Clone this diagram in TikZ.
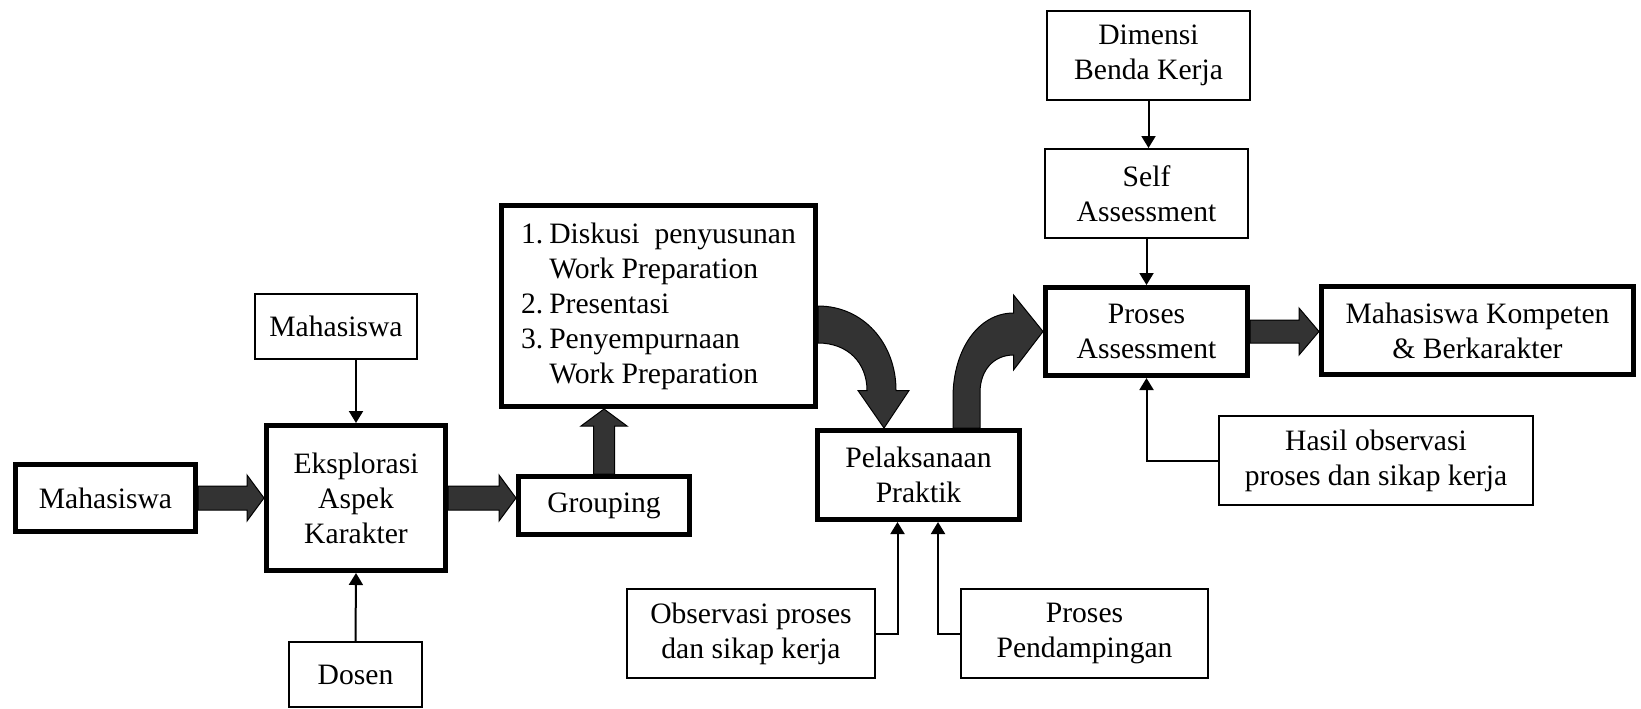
\documentclass[tikz,border=0pt]{standalone}
\usepackage{fontspec}
\setmainfont{Liberation Serif}
\usepackage{tikz}
\usetikzlibrary{arrows.meta,calc,backgrounds}
\definecolor{blockgray}{HTML}{333333}
\tikzset{every node/.append style={font=\fontsize{14.8pt}{17.5pt}\selectfont}}
\tikzset{
  thickbox/.style={draw,line width=2.5pt,inner sep=0pt,align=center},
  thinbox/.style={draw,line width=1pt,inner sep=0pt,align=center},
  link/.style={line width=1pt,-{Triangle[length=6pt,width=7pt]}},
  blockarrow/.style={fill=blockgray,draw=black,line width=0.5pt,line join=miter}
}

\begin{document}
\begin{tikzpicture}[x=0.5pt,y=-0.5pt]
  \useasboundingbox (0,0) rectangle (1641,708);
  % left part
  \node[thickbox,minimum width=90pt,minimum height=33.5pt] (mhsin) at (105.5,498) {Mahasiswa};
  \node[thinbox,minimum width=81pt,minimum height=32.5pt] (mhsatas) at (336,326.5) {Mahasiswa};
  \node[thickbox,minimum width=89.5pt,minimum height=72.5pt] (eksplorasi) at (356,498) {Eksplorasi\\Aspek\\Karakter};
  \node[thinbox,minimum width=66.5pt,minimum height=32.5pt] (dosen) at (355.5,674.5) {Dosen};
  \node[thickbox,minimum width=85.5pt,minimum height=29pt] (grouping) at (604,505.5) {Grouping};
  \node[thickbox,minimum width=157pt,minimum height=100.5pt] (workprep) at (658.5,306)
    {\begin{tabular}{@{}l@{\hspace{3pt}}l@{}}
      1. & Diskusi~~penyusunan\\
         & Work Preparation\\
      2. & Presentasi\\
      3. & Penyempurnaan\\
         & Work Preparation
    \end{tabular}};
  % middle part
  \node[thickbox,minimum width=101pt,minimum height=44.5pt] (pelaksanaan) at (918.5,475) {Pelaksanaan\\Praktik};
  \node[thinbox,minimum width=124pt,minimum height=44.5pt] (observasi) at (751,633.5) {Observasi proses\\dan sikap kerja};
  \node[thinbox,minimum width=123.5pt,minimum height=44.5pt] (pendamping) at (1084.5,633.5) {Proses\\Pendampingan};
  % right part
  \node[thinbox,minimum width=101.5pt,minimum height=44.5pt] (dimensi) at (1148.5,55.5) {Dimensi\\Benda Kerja};
  \node[thinbox,minimum width=101.5pt,minimum height=44.5pt] (selfas) at (1146.5,193.5) {Self\\Assessment};
  \node[thickbox,minimum width=101pt,minimum height=44pt] (prosesas) at (1146.5,331.5) {Proses\\Assessment};
  \node[thickbox,minimum width=156pt,minimum height=44pt] (kompeten) at (1477.5,330.5) {Mahasiswa Kompeten\\\& Berkarakter};
  \node[thinbox,minimum width=157pt,minimum height=44.5pt] (hasil) at (1376,460.5) {Hasil observasi\\proses dan sikap kerja};

  % thin connectors
  \draw[link] (mhsatas.south -| eksplorasi.north) -- (eksplorasi.north);
  \draw[link] (dosen.north) -- (eksplorasi.south);
  \draw[link] (dimensi.south) -- (dimensi.south |- selfas.north);
  \draw[link] (selfas.south) -- (prosesas.north);
  \draw[link] (hasil.west) -| (prosesas.south);
  \draw[link] (observasi.east) -| ($(pelaksanaan.south)+(-21,0)$);
  \draw[link] (pendamping.west) -| ($(pelaksanaan.south)+(19.5,0)$);

  % block arrows
  \coordinate (grpin) at (eksplorasi.east -| grouping.west);
  \coordinate (kmpin) at (prosesas.east -| kompeten.west);
  \coordinate (wpin) at (grouping.north |- workprep.south);
  \coordinate (P) at (pelaksanaan.north);
  \coordinate (A) at (prosesas.west);
  \begin{scope}[on background layer]
    \foreach \src/\dst/\hd/\bw/\hw in {mhsin.east/eksplorasi.west/17/12/23,
        eksplorasi.east/grpin/17/12/23, prosesas.east/kmpin/20/11.5/23.5}
      \filldraw[blockarrow] ($(\src)+(0,-\bw)$) -- ($(\dst)+(-\hd,-\bw)$) -- ($(\dst)+(-\hd,-\hw)$)
        -- (\dst) -- ($(\dst)+(-\hd,\hw)$) -- ($(\dst)+(-\hd,\bw)$) -- ($(\src)+(0,\bw)$) -- cycle;
    \filldraw[blockarrow] ($(grouping.north)+(-10.5,0)$) -- ($(wpin)+(-10.5,17)$) -- ($(wpin)+(-23,17)$)
      -- (wpin) -- ($(wpin)+(23,17)$) -- ($(wpin)+(10.5,17)$) -- ($(grouping.north)+(10.5,0)$) -- cycle;
    % curved arrows
    \filldraw[blockarrow] (workprep.east) .. controls ($(workprep.east)+(45,0)$) and ($(P)+(-22.5,-85)$) .. ($(P)+(-22.5,-37.5)$)
      -- ($(P)+(-9.5,-37.5)$) -- ($(P)+(-34.5,0)$) -- ($(P)+(-60.5,-37.5)$) -- ($(P)+(-51.5,-37.5)$)
      .. controls ($(P)+(-51.5,-65)$) and ($(workprep.east)+(30,37)$) .. ($(workprep.east)+(0,37)$) -- cycle;
    \filldraw[blockarrow] ($(P)+(34.5,0)$) -- ($(P)+(34.5,-30.5)$)
      .. controls ($(P)+(34.5,-78.5)$) and ($(A)+(-64.5,-18.5)$) .. ($(A)+(-29.5,-18.5)$)
      -- ($(A)+(-29.5,-36.5)$) -- (A) -- ($(A)+(-29.5,38.5)$) -- ($(A)+(-29.5,23.5)$)
      .. controls ($(A)+(-49.5,23.5)$) and ($(P)+(61.5,-57.5)$) .. ($(P)+(61.5,-35.5)$)
      -- ($(P)+(61.5,0)$) -- cycle;
  \end{scope}
\end{tikzpicture}
\end{document}
